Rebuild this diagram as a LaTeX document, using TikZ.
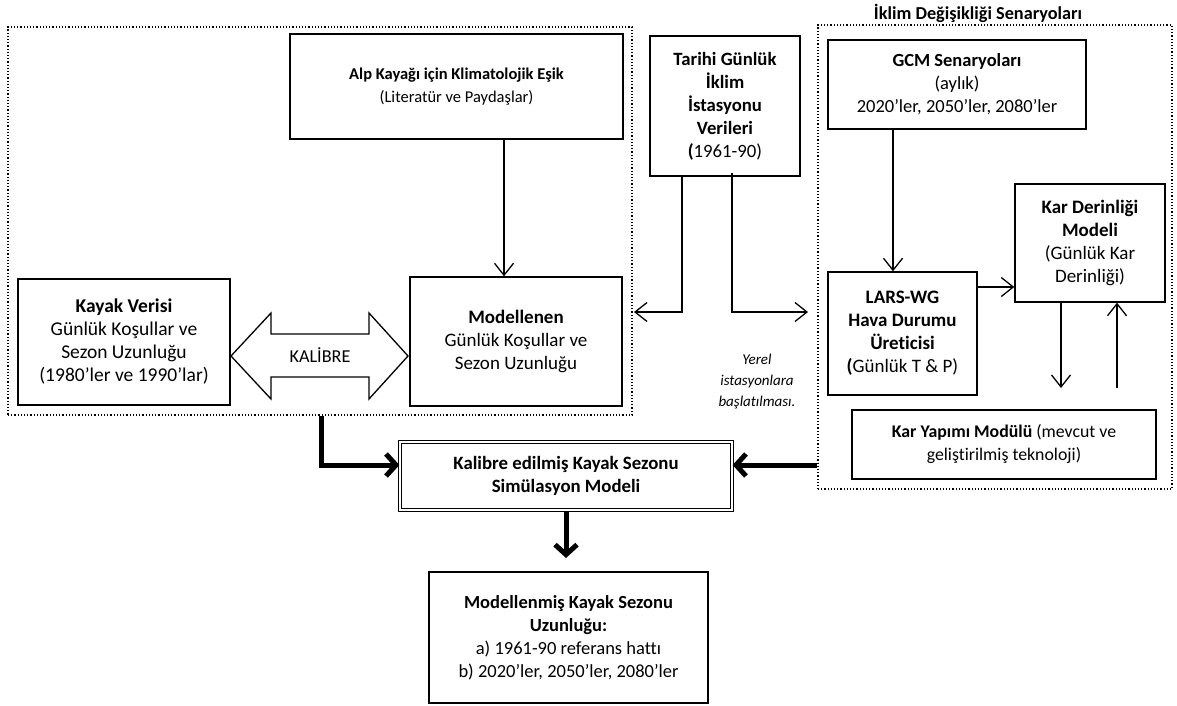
\documentclass[tikz,border=0pt]{standalone}
\usepackage{fontspec}
\setmainfont{Carlito}[Ligatures=NoCommon]
\usetikzlibrary{arrows.meta,calc}
\newcommand\setfs[1]{\fontsize{#1}{23}\selectfont}
\begin{document}
\begin{tikzpicture}[x=1pt,y=-1pt,
  box/.style={draw,line width=1.4pt,align=center,inner sep=0pt,font=\setfs{19}},
  grp/.style={draw,dotted,line width=1.2pt,inner sep=0pt},
  thinarrow/.style={line width=1.3pt,-{Straight Barb[length=12pt,width=19pt]}},
  heavyarrow/.style={line width=5pt,-{Straight Barb[length=10pt,width=22pt]}}]
\useasboundingbox (0,0) rectangle (1177,706);

% dotted group frames
\node[grp,minimum width=624pt,minimum height=388pt] (leftgrp) at (320,221) {};
\node[grp,minimum width=354pt,minimum height=464pt] (rightgrp) at (995,257) {};
\node[font=\setfs{18.25}\bfseries,inner sep=0pt] (rtitle) at (978,13) {İklim Değişikliği Senaryoları};

% boxes
\node[box,font=\setfs{16.5},minimum width=333pt,minimum height=105pt] (alp) at (456.5,86.5)
  {\textbf{Alp Kayağı için Klimatolojik Eşik}\\(Literatür ve Paydaşlar)};
\node[box,minimum width=212pt,minimum height=129pt] (model) at (516,341.5)
  {\textbf{Modellenen}\\Günlük Koşullar ve\\Sezon Uzunluğu};
\node[box,font=\setfs{19.5},minimum width=212pt,minimum height=126pt] (kayak) at (124,342)
  {\textbf{Kayak Verisi}\\Günlük Koşullar ve\\Sezon Uzunluğu\\(1980’ler ve 1990’lar)};
\node[box,font=\setfs{18.75},minimum width=150pt,minimum height=140pt] (tarihi) at (725,106)
  {\textbf{Tarihi Günlük}\\\textbf{İklim}\\\textbf{İstasyonu}\\\textbf{Verileri}\\\textbf{(}1961-90)};
\node[box,font=\setfs{18.5},minimum width=258pt,minimum height=89pt] (gcm) at (957,84.5)
  {\textbf{GCM Senaryoları}\\(aylık)\\2020’ler, 2050’ler, 2080’ler};
\node[box,minimum width=149pt,minimum height=123pt] (lars) at (902.5,333.5)
  {\textbf{LARS-WG}\\\textbf{Hava Durumu}\\\textbf{Üreticisi}\\\textbf{(}Günlük T \& P)};
\node[box,minimum width=150pt,minimum height=118pt] (karder) at (1090,243)
  {\textbf{Kar Derinliği}\\\textbf{Modeli}\\(Günlük Kar\\Derinliği)};
\node[box,font=\setfs{17.8},minimum width=304pt,minimum height=69pt] (karyap) at (1004,444.5)
  {\textbf{Kar Yapımı Modülü} (mevcut ve\\geliştirilmiş teknoloji)};
\node[box,font=\setfs{18.8},double,line width=1.2pt,double distance=2pt,minimum width=332pt,minimum height=68pt] (kal) at (566,476)
  {\textbf{Kalibre edilmiş Kayak Sezonu}\\\textbf{Simülasyon Modeli}};
\node[box,font=\setfs{18.5},minimum width=279pt,minimum height=131pt] (sonuc) at (568.5,637.5)
  {\textbf{Modellenmiş Kayak Sezonu}\\\textbf{Uzunluğu:}\\a) 1961-90 referans hattı\\b) 2020’ler, 2050’ler, 2080’ler};

% italic note
\node[align=center,inner sep=0pt,font=\fontsize{15}{21}\selectfont\itshape] (note) at (757,382)
  {Yerel\\istasyonlara\\başlatılması.};

% calibration double arrow
\draw[line width=1.3pt,line join=miter] (231,356) -- (271,313) -- (271,334) -- (369,334) -- (369,313)
  -- (408,356) -- (369,399) -- (369,377) -- (271,377) -- (271,399) -- cycle;
\node[font=\setfs{18.2},inner sep=0pt] (calib) at (320,355) {KALİBRE};

% free ends
\coordinate (tl) at (634,312);
\coordinate (tr) at (808,312);
\coordinate (kd) at (1061,388);
\coordinate (ku) at (1117,388);
\coordinate (outend) at (566,558);

% thin connectors
\draw[thinarrow] ([xshift=47.5pt]alp.south) -- ([xshift=47.5pt]alp.south |- model.north);
\draw[thinarrow] ([xshift=-43pt]tarihi.south) |- (tl);
\draw[thinarrow] ([xshift=7pt,yshift=4pt]tarihi.south) |- (tr);
\draw[thinarrow] ([xshift=-64pt]gcm.south) -- ([xshift=-64pt]gcm.south |- lars.north);
\draw[thinarrow] (lars.east |- 0,287) -- (karder.west |- 0,287);
\draw[thinarrow] (karder.south -| kd) -- (kd);
\draw[thinarrow] (ku) -- (karder.south -| ku);

% heavy connectors
\draw[heavyarrow] (leftgrp.south -| 321,0) |- (kal.west |- 0,465);
\draw[heavyarrow] (rightgrp.west |- 0,465) -- (kal.east |- 0,465);
\draw[heavyarrow] (kal.south) -- (outend);
\end{tikzpicture}
\end{document}
